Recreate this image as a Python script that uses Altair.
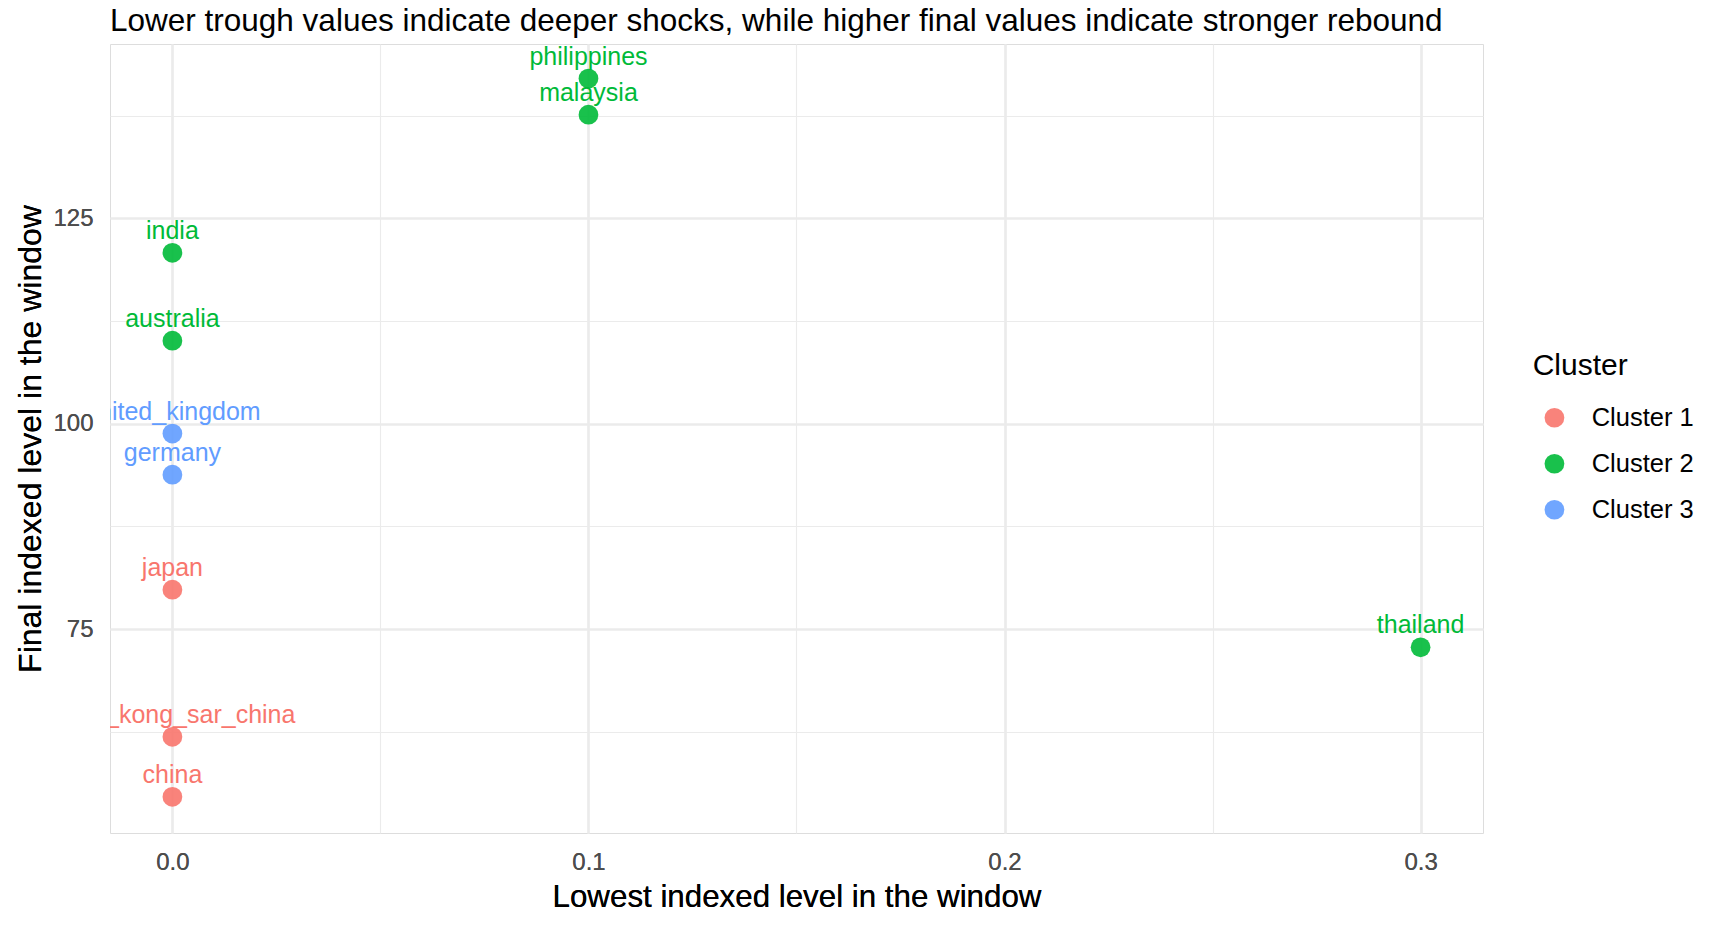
import altair as alt
import pandas as pd

countries = ["china", "hong_kong_sar_china", "japan", "germany", "united_kingdom",
             "australia", "india", "malaysia", "philippines", "thailand"]
trough = [0.0, 0.0, 0.0, 0.0, 0.0, 0.0, 0.0, 0.1, 0.1, 0.3]
final = [54.6, 61.9, 79.8, 93.8, 98.8, 110.1, 120.8, 137.6, 142.0, 72.8]
cluster = ["Cluster 1", "Cluster 1", "Cluster 1", "Cluster 3", "Cluster 3",
           "Cluster 2", "Cluster 2", "Cluster 2", "Cluster 2", "Cluster 2"]

cluster_names = ["Cluster 1", "Cluster 2", "Cluster 3"]
cluster_colors = ["#F8766D", "#00BA38", "#619CFF"]

x_major = [0.0, 0.1, 0.2, 0.3]
x_minor = [0.05, 0.15, 0.25]
y_major = [75, 100, 125]
y_minor = [62.5, 87.5, 112.5, 137.5]

title_text = "Lower trough values indicate deeper shocks, while higher final values indicate stronger rebound"
x_title = "Lowest indexed level in the window"
y_title = "Final indexed level in the window"

FONT = "Liberation Sans"
W, H = 1373, 789

df = pd.DataFrame({"country": countries, "trough": trough, "final": final, "cluster": cluster})

xscale = alt.Scale(domain=[-0.015, 0.315], nice=False, zero=False)
yscale = alt.Scale(domain=[50.2, 146.2], nice=False, zero=False)

x_axis_major = alt.Axis(
    orient="bottom", values=x_major, format=".1f", grid=True, gridColor="#EBEBEB",
    gridWidth=2.2, domain=False, ticks=False, tickSize=0, labelFontSize=24,
    labelColor="#4D4D4D", labelPadding=17, labelFont=FONT, title=x_title,
    titleFontSize=31.3, titleColor="black", titleFontWeight="normal", titleFont=FONT,
    titleX=W / 2, titleY=73.7, titleBaseline="alphabetic", titleAlign="center", zindex=0)
y_axis_major = alt.Axis(
    orient="left", values=y_major, format="d", grid=True, gridColor="#EBEBEB",
    gridWidth=2.2, domain=False, ticks=False, tickSize=0, labelFontSize=24,
    labelColor="#4D4D4D", labelPadding=17, labelFont=FONT, title=y_title,
    titleFontSize=32, titleColor="black", titleFontWeight="normal", titleFont=FONT,
    titleAngle=270, titleX=-70, titleY=H / 2, titleBaseline="alphabetic",
    titleAlign="center", zindex=0)
x_axis_minor = alt.Axis(orient="bottom", values=x_minor, grid=True, gridColor="#EBEBEB",
                        gridWidth=1.1, domain=False, ticks=False, labels=False, title=None, zindex=0)
y_axis_minor = alt.Axis(orient="left", values=y_minor, grid=True, gridColor="#EBEBEB",
                        gridWidth=1.1, domain=False, ticks=False, labels=False, title=None, zindex=0)

base = alt.Chart(df)

minor = base.mark_circle(opacity=0).encode(
    x=alt.X("trough:Q", scale=xscale, axis=x_axis_minor),
    y=alt.Y("final:Q", scale=yscale, axis=y_axis_minor),
)

points = base.mark_circle(size=390, opacity=0.9).encode(
    x=alt.X("trough:Q", scale=xscale, axis=x_axis_major),
    y=alt.Y("final:Q", scale=yscale, axis=y_axis_major),
    color=alt.Color("cluster:N", scale=alt.Scale(domain=cluster_names, range=cluster_colors),
                    legend=alt.Legend(
                        title="Cluster", orient="none", legendX=1422.7, legendY=307,
                        padding=0, titleFontSize=30, titleFontWeight="normal",
                        titleColor="black", titleFont=FONT, labelFontSize=25.5,
                        labelColor="black", labelFont=FONT, symbolType="circle",
                        symbolSize=390, symbolOpacity=0.9, symbolStrokeWidth=0,
                        symbolOffset=9, labelOffset=24.5, rowPadding=19, titlePadding=24)),
)

labels = base.mark_text(dy=-14, baseline="alphabetic", align="center", fontSize=25,
                        font=FONT, clip=True).encode(
    x=alt.X("trough:Q", scale=xscale, axis=x_axis_major),
    y=alt.Y("final:Q", scale=yscale, axis=y_axis_major),
    text="country:N",
    color=alt.Color("cluster:N", scale=alt.Scale(domain=cluster_names, range=cluster_colors),
                    legend=None),
)

chart = alt.layer(minor, points, labels).resolve_axis(
    x="independent", y="independent"
).properties(
    width=W, height=H,
    title=alt.TitleParams(title_text, anchor="start", frame="group", fontSize=31.5,
                          fontWeight="normal", font=FONT, color="black",
                          baseline="alphabetic", offset=14, dy=32),
    autosize=alt.AutoSizeParams(type="none"),
    padding={"left": 102, "top": 36, "right": 230, "bottom": 84},
).configure_view(stroke=None).configure(font=FONT)

chart.save("out.html", embed_options={"renderer": "svg", "actions": False})
